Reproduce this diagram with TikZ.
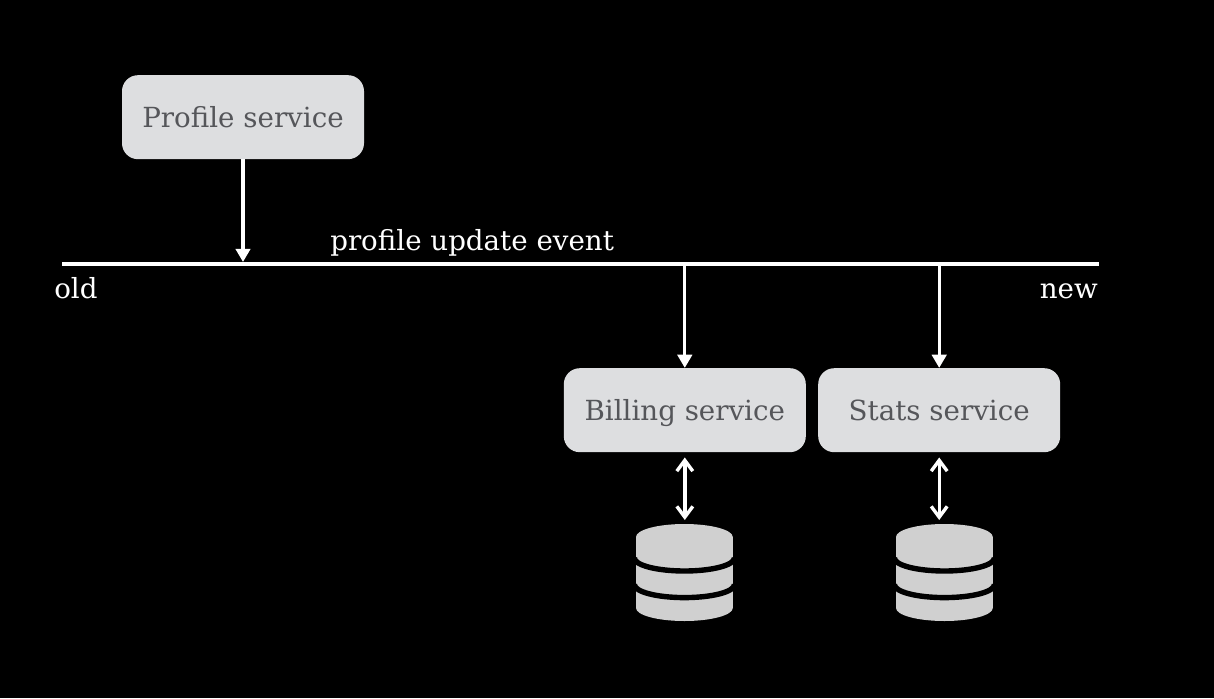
\documentclass[tikz,border=0pt]{standalone}
\usepackage{fontspec}
\setmainfont{DejaVu Serif}
\usetikzlibrary{arrows.meta}
\definecolor{svcfill}{HTML}{DDDEE0}
\definecolor{svctext}{HTML}{55565A}
\definecolor{dbfill}{HTML}{D0D0D0}
\tikzset{
    svc/.style={draw=none, fill=svcfill, rounded corners=0.4cm, minimum width=6.05cm, minimum height=2.1cm, text=svctext, text height=0.54cm, text depth=0.02cm, font=\fontsize{19.7}{23}\selectfont},
    lbl/.style={text=white, font=\fontsize{19.7}{23}\selectfont},
    conn/.style={draw=white, line width=0.08cm, -{Triangle[length=0.33cm,width=0.36cm]}},
    both/.style={draw=white, line width=0.085cm, shorten <=0.125cm, {Straight Barb[length=0.27cm,width=0.4cm]}-{Straight Barb[length=0.27cm,width=0.4cm]}}
}
\newcommand{\dbstack}[2]{%
    \begin{scope}[shift={(#1,#2)}]
        \fill[dbfill] (-1.21,0) arc[start angle=180, end angle=0, x radius=1.21, y radius=0.325] -- (1.21,-1.775) arc[start angle=0, end angle=-180, x radius=1.21, y radius=0.325] -- cycle;
        \draw[black, line width=0.135cm] (-1.25,-0.525) arc[start angle=180, end angle=360, x radius=1.25, y radius=0.325];
        \draw[black, line width=0.135cm] (-1.25,-1.19) arc[start angle=180, end angle=360, x radius=1.25, y radius=0.325];
    \end{scope}}
\begin{document}
\begin{tikzpicture}[x=1cm,y=1cm]
    \fill[black] (0,0) rectangle (30.35,17.45);
    \useasboundingbox (0,0) rectangle (30.35,17.45);
    % services
    \node[svc] (profile) at (6.075,14.52) {Profile service};
    \node[svc] (billing) at (17.12,7.195) {Billing service};
    \node[svc] (stats) at (23.48,7.195) {Stats service};
    % event log
    \coordinate (logstart) at (1.55,10.85);
    \coordinate (logend) at (27.47,10.85);
    \draw[white, line width=0.09cm] (logstart) -- (logend);
    \coordinate (logprofile) at (6.075,10.9);
    \coordinate (logbilling) at (17.12,10.85);
    \coordinate (logstats) at (23.48,10.85);
    \draw[conn] (profile) -- (logprofile);
    \draw[conn] (logbilling) -- (billing);
    \draw[conn] (logstats) -- (stats);
    \node[lbl, anchor=base west, inner sep=0pt] (evt) at (8.25,11.2) {profile update event};
    \node[lbl, anchor=base west, inner sep=0pt] (old) at (1.35,9.98) {old};
    \node[lbl, anchor=base east, inner sep=0pt] (new) at (27.45,9.98) {new};
    % databases
    \dbstack{17.11}{4.025}
    \dbstack{23.61}{4.025}
    \coordinate (dbbilling) at (17.12,4.45);
    \coordinate (dbstats) at (23.48,4.45);
    \draw[both] (billing) -- (dbbilling);
    \draw[both] (stats) -- (dbstats);
\end{tikzpicture}
\end{document}
